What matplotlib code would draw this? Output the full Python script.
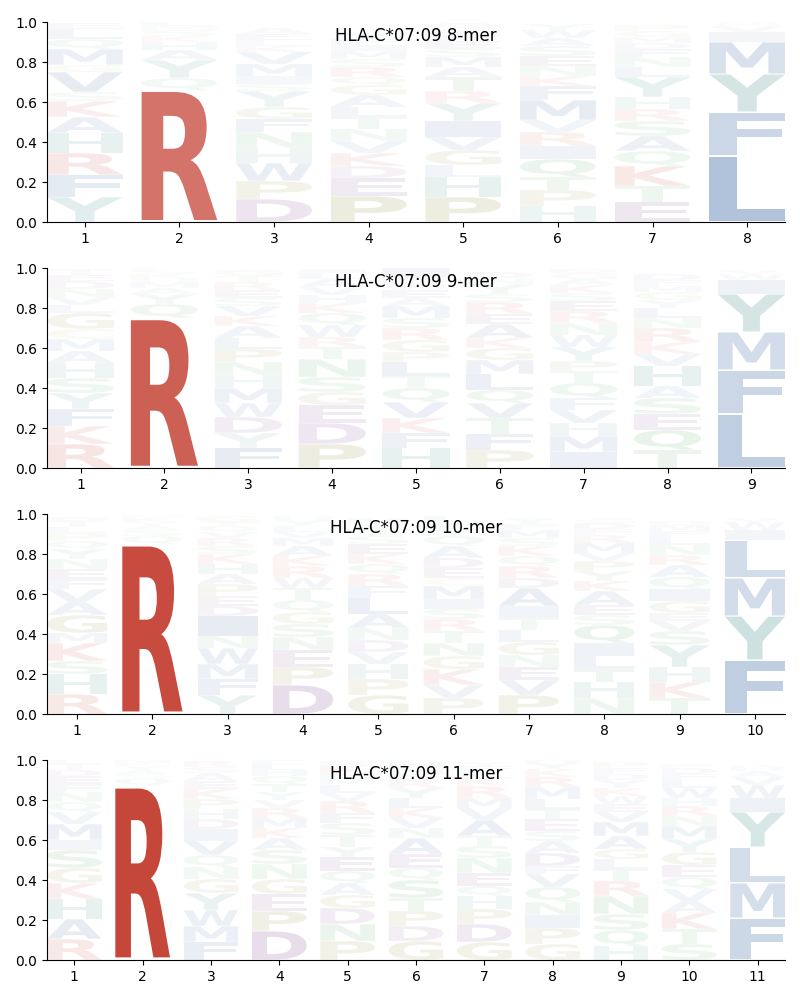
import matplotlib
matplotlib.use("Agg")
import matplotlib.pyplot as plt
from matplotlib.textpath import TextPath
from matplotlib.font_manager import FontProperties
from matplotlib.patches import PathPatch
from matplotlib.transforms import Affine2D

allele = "HLA-C*07:09"
lengths = [8, 9, 10, 11]

# letters per position listed bottom-to-top, with their heights (probabilities)
letters_8mer = ["YFRHAKSVGMQLE", "RQYAHKSML", "DPWHNFGYSIMVKLEA", "PEDKVNTLAGQRSMIFY",
                "PHLGVIYRTAMSEFKQ", "HPTQIRVMFKNESAWY", "ETKQASRHYLNFDMGP", "LFYMIVWA"]
heights_8mer = [
    [.125, .11, .11, .10, .08, .08, .045, .10, .035, .08, .05, .05, .03],
    [.66, .06, .09, .05, .04, .03, .03, .02, .02],
    [.115, .09, .09, .075, .08, .065, .06, .08, .035, .04, .06, .06, .03, .03, .03, .03],
    [.13, .09, .06, .065, .06, .06, .06, .05, .06, .05, .04, .05, .04, .04, .03, .03, .03],
    [.125, .10, .06, .075, .065, .08, .09, .06, .07, .05, .05, .04, .04, .03, .03, .03],
    [.08, .08, .065, .09, .065, .07, .06, .10, .07, .05, .05, .05, .05, .04, .04, .03],
    [.10, .08, .10, .075, .075, .075, .06, .06, .10, .05, .05, .04, .03, .03, .03, .03],
    [.33, .22, .19, .16, .05, .03, .01, .01],
]

letters_9mer = ["RKFYSHAMCGLVNDET", "RQYAMHKSL", "FYDWMHNPLAKVSERTG", "PDEGSNTRWQKHVALI",
                "HFKVQTLPGRSMAEWDI", "PFTVQLMGKAERSYND", "IMHVFQTPYWNRESKAGD",
                "TQESAHVKRNLYGMFD", "LFMYIWV"]
heights_9mer = [
    [.12, .09, .085, .08, .075, .075, .06, .06, .05, .08, .04, .04, .04, .04, .03, .03],
    [.75, .07, .05, .03, .03, .02, .02, .02, .01],
    [.10, .075, .08, .07, .075, .065, .065, .065, .055, .06, .05, .05, .04, .04, .04, .03, .03],
    [.12, .105, .09, .065, .075, .09, .06, .05, .06, .06, .05, .04, .04, .04, .03, .02],
    [.10, .075, .075, .08, .07, .06, .07, .05, .06, .06, .05, .06, .04, .04, .03, .03, .05],
    [.09, .08, .08, .075, .065, .08, .07, .06, .05, .07, .05, .06, .04, .05, .03, .03],
    [.08, .08, .065, .065, .06, .075, .06, .05, .07, .06, .06, .06, .05, .04, .04, .03, .03, .02],
    [.09, .10, .08, .08, .06, .10, .06, .06, .07, .05, .05, .04, .04, .03, .03, .03],
    [.27, .22, .19, .19, .07, .03, .02],
]

letters_10mer = ["RHSKMGAVFENYQPLTD", "RQSAYKMH", "YFMWNIDEPAHKSRVQTG", "DPENSGQTWRKAMVLYH",
                 "GPHVDNALFRQKESTYM", "PVKGNTRSIMCEDAQYHL", "PVENGLTIADRQKSMFY",
                 "NHTLIQSEAKYPVMRFDG", "TKHYSVEGIQARNLFMD", "FYMLIWV"]
heights_10mer = [
    [.10, .10, .065, .09, .05, .09, .065, .065, .05, .05, .05, .05, .04, .04, .03, .03, .02],
    [.85, .04, .03, .02, .02, .02, .01, .01],
    [.095, .08, .075, .08, .06, .10, .05, .05, .06, .05, .05, .05, .04, .04, .03, .03, .02, .03],
    [.145, .09, .085, .065, .065, .06, .06, .06, .05, .06, .05, .05, .04, .03, .03, .03, .02],
    [.095, .08, .075, .06, .06, .06, .07, .08, .06, .06, .05, .05, .05, .04, .03, .03, .03],
    [.08, .065, .08, .065, .065, .06, .06, .05, .05, .065, .04, .05, .05, .06, .05, .04, .03, .03],
    [.095, .075, .065, .06, .065, .06, .06, .06, .09, .05, .06, .05, .05, .04, .04, .03, .03],
    [.08, .08, .065, .065, .065, .09, .05, .05, .07, .05, .05, .05, .04, .05, .04, .03, .03, .02],
    [.08, .08, .075, .11, .07, .05, .04, .06, .06, .06, .06, .05, .05, .04, .03, .03, .02],
    [.27, .22, .19, .19, .05, .04, .02],
]

letters_11mer = ["RAHKGSIMVQNFEDTL", "RQSAYKM", "FMWYGNQVIDHPKEASR", "DPEGNSAKMRVYTQHLF",
                 "PNDGAQEYTSFRVLMHKI", "GDPTSQEANVKLYRFMH", "GDPHQENSTAVMRKLFY",
                 "GPINQVFDASETLMRKYH", "HQSNRTLGAMVEWKYDFP", "STKAVQEGYMNRHWLFDP", "FMLYIWVAHK"]
heights_11mer = [
    [.105, .10, .10, .08, .075, .09, .05, .08, .06, .05, .05, .04, .04, .03, .03, .02],
    [.87, .04, .02, .02, .02, .015, .015],
    [.09, .08, .08, .085, .07, .06, .06, .07, .06, .05, .05, .05, .05, .04, .04, .03, .03],
    [.145, .10, .085, .075, .075, .07, .06, .05, .05, .05, .04, .04, .04, .04, .03, .03, .02],
    [.095, .085, .08, .065, .06, .06, .07, .05, .06, .06, .05, .06, .04, .04, .03, .03, .04, .02],
    [.095, .075, .075, .065, .09, .06, .07, .08, .05, .05, .05, .05, .05, .04, .03, .03, .03],
    [.09, .09, .075, .065, .05, .065, .075, .06, .05, .08, .06, .05, .06, .04, .03, .03, .02],
    [.08, .08, .065, .065, .075, .065, .04, .065, .06, .05, .06, .05, .05, .06, .05, .04, .03, .02],
    [.07, .08, .08, .09, .075, .06, .05, .05, .065, .07, .05, .04, .04, .04, .04, .03, .03, .03],
    [.08, .075, .08, .06, .06, .06, .06, .065, .065, .065, .05, .05, .04, .05, .04, .03, .03, .02],
    [.21, .175, .18, .175, .07, .065, .04, .03, .02, .01],
]

panels = [(letters_8mer, heights_8mer), (letters_9mer, heights_9mer),
          (letters_10mer, heights_10mer), (letters_11mer, heights_11mer)]

group_colors = {
    "RK": (0.74, 0.17, 0.11),
    "AVLIMFW": (0.08, 0.29, 0.57),
    "YH": (0.11, 0.48, 0.45),
    "DE": (0.38, 0.10, 0.45),
    "PG": (0.45, 0.45, 0.05),
    "NQST": (0.15, 0.58, 0.22),
    "C": (0.75, 0.60, 0.05),
}


def color_for(letter):
    for grp, col in group_colors.items():
        if letter in grp:
            return col
    return (0.5, 0.5, 0.5)


font = FontProperties(family="DejaVu Sans", weight="bold")
glyph_width = 0.8
vpad = 0.03

fig, axes = plt.subplots(4, 1, figsize=(8, 10), dpi=100)
fig.subplots_adjust(left=0.05875, right=0.98125, top=0.978, bottom=0.04, hspace=0.23)

for ax, L, (letters, heights) in zip(axes, lengths, panels):
    for pos, (col_letters, col_heights) in enumerate(zip(letters, heights), start=1):
        floor = 0.0
        for ch, h in zip(col_letters, col_heights):
            tp = TextPath((0, 0), ch, size=1, prop=font)
            bb = tp.get_extents()
            y0 = floor + vpad * h / 2
            gh = h * (1 - vpad)
            tr = (Affine2D().translate(-bb.x0, -bb.y0)
                  .scale(glyph_width / bb.width, gh / bb.height)
                  .translate(pos - glyph_width / 2, y0))
            path = tr.transform_path(tp)
            patch = PathPatch(path, facecolor=color_for(ch), edgecolor="none",
                              alpha=min(1.0, h), lw=0)
            ax.add_patch(patch)
            floor += h
    ax.set_xlim(0.6, L + 0.4)
    ax.set_ylim(0, 1)
    ax.set_xticks(range(1, L + 1))
    ax.set_yticks([0, 0.2, 0.4, 0.6, 0.8, 1.0])
    ax.spines["top"].set_visible(False)
    ax.spines["right"].set_visible(False)
    ax.text(0.5, 0.93, f"{allele} {L}-mer", transform=ax.transAxes,
            ha="center", va="center", fontsize=12)

fig.savefig("out.png", dpi=100)
